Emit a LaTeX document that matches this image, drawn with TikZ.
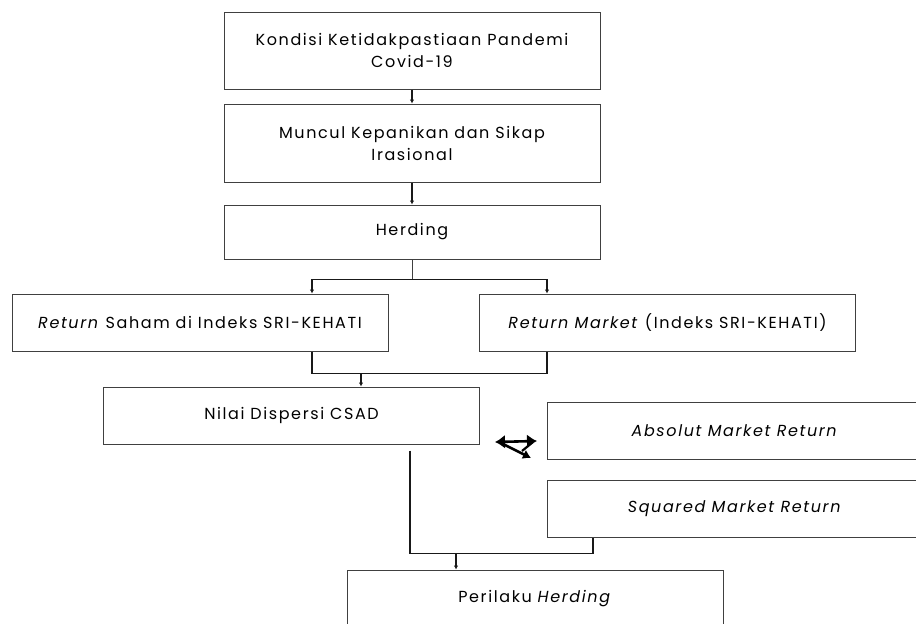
\documentclass[tikz,border=0pt]{standalone}
\usepackage{fontspec}
\setmainfont{Poppins}[LetterSpace=10]
\usetikzlibrary{arrows.meta}

\tikzset{
	kotak/.style={draw=black!75,line width=1pt,minimum width=376pt,minimum height=#1,
		inner sep=0pt,align=center,font=\fontsize{16}{22}\selectfont},
	kotak/.default=57pt,
	alur/.style={line width=1.6pt,black!90},
	panah/.style={alur,-{Latex[length=4pt,width=4.5pt]}},
}

\begin{document}
\begin{tikzpicture}[x=1pt,y=-1pt]
	\useasboundingbox (0,0) rectangle (916,624);
	% alur utama
	\node[kotak=77pt] (kondisi) at (412,50.5) {Kondisi Ketidakpastiaan Pandemi\\Covid-19};
	\node[kotak=78pt] (muncul) at (412,143) {Muncul Kepanikan dan Sikap\\Irasional};
	\node[kotak=54pt] (herding) at (412,232) {Herding};
	\node[kotak] (rsaham) at (200,322.5) {\textit{Return} Saham di Indeks SRI-KEHATI};
	\node[kotak] (rmarket) at (667.5,322.5) {\textit{Return Market} (Indeks SRI-KEHATI)};
	\node[kotak] (nilai) at (291.5,415.5) {Nilai Dispersi CSAD};
	\node[kotak] (absolut) at (735,430.5) {\textit{Absolut Market Return}};
	\node[kotak] (squared) at (735,508.5) {\textit{Squared Market Return}};
	\node[kotak] (perilaku) at (535,598.5) {Perilaku \textit{Herding}};

	\draw[panah] (kondisi) -- (muncul);
	\draw[panah] (muncul) -- (herding);

	% cabang ke dua return
	\draw[line width=1pt,black!75] (herding.south) -- ++(0,20) coordinate (cabang);
	\draw[panah] (cabang) -| ([xshift=112pt]rsaham.north);
	\draw[panah] (cabang) -| ([xshift=-120.5pt]rmarket.north);

	% gabung ke CSAD
	\draw[alur] ([xshift=112pt]rsaham.south) -- ++(0,22) coordinate (gabung)
		-| ([xshift=-120.5pt]rmarket.south);
	\coordinate (masuk) at ([xshift=69.5pt]nilai.north);
	\draw[panah] (gabung -| masuk) -- (masuk);

	% panah dua arah
	\draw[line width=2.6pt,{Latex[length=10pt,width=14pt]}-{Latex[length=10pt,width=14pt]}]
		(495,442) -- (537,441);
	\draw[line width=2.6pt,-{Latex[length=8pt,width=10pt]}] (503,444) -- (531,458);
	\draw[line width=2.2pt] (533,442) -- (522,451);

	% ke perilaku herding
	\draw[alur] ([xshift=118.5pt,yshift=-6pt]nilai.south) -- ++(0,103) coordinate (temu)
		-| ([xshift=-142pt]squared.south);
	\coordinate (masuk2) at ([xshift=-79pt]perilaku.north);
	\draw[panah] (temu -| masuk2) -- (masuk2);
\end{tikzpicture}
\end{document}
